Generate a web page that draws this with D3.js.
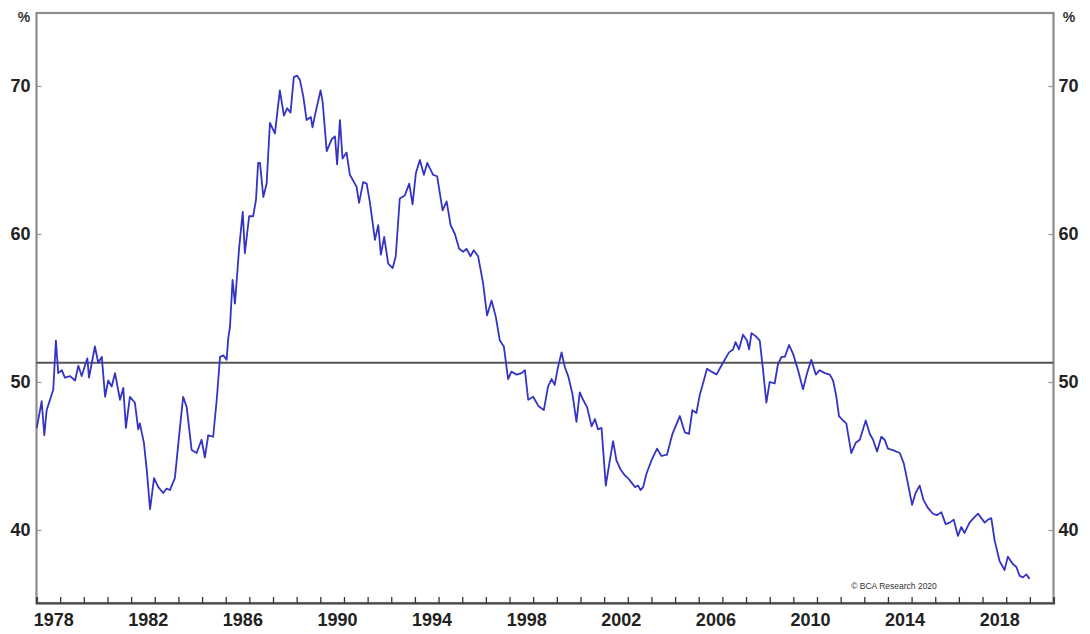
<!DOCTYPE html>
<html>
<head>
<meta charset="utf-8">
<script src="https://cdn.jsdelivr.net/npm/d3@7"></script>
<style>
  html, body { margin: 0; padding: 0; background: #fff; }
  svg { display: block; font-family: "Liberation Sans", Arial, sans-serif; }
</style>
</head>
<body>
<svg id="chart" width="1090" height="634"></svg>
<script>
// ---- data (decimal year, %) ----
const dates = [
1977.01,1977.22,1977.33,1977.43,1977.57,1977.71,1977.82,1977.92,1978.07,1978.20,1978.42,1978.63,1978.77,1978.91,
1979.15,1979.22,1979.47,1979.61,1979.76,1979.90,1980.03,1980.18,1980.32,1980.53,1980.67,1980.78,1980.95,
1981.16,1981.30,1981.37,1981.54,1981.66,1981.80,1981.97,1982.15,1982.36,1982.50,1982.64,1982.85,
1983.07,1983.20,1983.35,1983.56,1983.77,1983.98,1984.12,1984.26,1984.47,1984.62,1984.76,1984.90,
1985.04,1985.11,1985.18,1985.29,1985.39,1985.57,1985.72,1985.81,1985.99,1986.16,1986.28,1986.37,1986.45,
1986.59,1986.73,1986.87,1987.08,1987.29,1987.46,1987.60,1987.74,1987.88,1988.02,1988.14,1988.28,1988.42,
1988.60,1988.67,1988.77,1989.01,1989.10,1989.27,1989.48,1989.62,1989.71,1989.83,1989.94,1990.11,1990.25,
1990.53,1990.64,1990.81,1990.96,1991.10,1991.31,1991.45,1991.56,1991.70,1991.87,1992.06,1992.19,1992.36,
1992.57,1992.76,1992.90,1993.04,1993.21,1993.38,1993.52,1993.77,1993.94,1994.17,1994.34,1994.51,1994.69,
1994.87,1995.04,1995.18,1995.35,1995.49,1995.67,1995.88,1996.05,1996.24,1996.42,1996.59,1996.76,1996.94,
1997.08,1997.30,1997.51,1997.65,1997.79,1998.00,1998.21,1998.45,1998.63,1998.78,1998.91,1999.05,1999.20,
1999.34,1999.48,1999.66,1999.83,1999.97,2000.11,2000.28,2000.47,2000.61,2000.74,2000.89,2001.07,2001.21,
2001.38,2001.52,2001.69,2001.87,2002.01,2002.16,2002.30,2002.44,2002.54,2002.65,2002.79,2003.00,2003.24,
2003.42,2003.66,2003.89,2004.20,2004.41,2004.59,2004.73,2004.90,2005.04,2005.18,2005.35,2005.54,2005.75,
2005.92,2006.10,2006.28,2006.45,2006.56,2006.70,2006.87,2007.04,2007.13,2007.23,2007.41,2007.58,2007.72,
2007.86,2008.00,2008.21,2008.35,2008.50,2008.64,2008.82,2008.99,2009.20,2009.41,2009.58,2009.76,2009.95,
2010.11,2010.33,2010.54,2010.68,2010.82,2010.93,2011.10,2011.24,2011.45,2011.64,2011.81,2012.06,2012.23,
2012.37,2012.54,2012.72,2012.86,2013.00,2013.21,2013.50,2013.67,2013.85,2014.02,2014.17,2014.34,2014.51,
2014.69,2014.90,2015.07,2015.26,2015.44,2015.61,2015.78,2015.96,2016.10,2016.24,2016.45,2016.62,2016.81,
2016.95,2017.09,2017.23,2017.37,2017.51,2017.72,2017.93,2018.07,2018.28,2018.43,2018.57,2018.71,2018.85,2018.99
];
const values = [
46.9,48.7,46.4,48.1,48.8,49.5,52.8,50.6,50.8,50.3,50.4,50.1,51.1,50.4,
51.6,50.3,52.4,51.3,51.7,49.0,50.1,49.7,50.6,48.8,49.6,46.9,49.0,
48.6,46.8,47.2,45.9,44.1,41.4,43.5,42.9,42.5,42.8,42.7,43.5,
47.0,49.0,48.3,45.4,45.2,46.1,44.9,46.4,46.3,48.8,51.7,51.8,
51.5,53.0,53.7,56.9,55.3,59.1,61.5,58.7,61.2,61.2,62.3,64.8,64.8,
62.5,63.4,67.5,66.8,69.7,68.0,68.5,68.2,70.6,70.7,70.4,69.3,67.7,
67.9,67.2,68.0,69.7,68.9,65.6,66.4,66.6,64.7,67.7,65.1,65.5,64.0,
63.2,62.1,63.5,63.4,62.1,59.6,60.6,58.6,59.8,58.0,57.7,58.5,62.4,
62.6,63.4,62.0,64.1,65.0,64.0,64.8,64.0,63.9,61.6,62.2,60.6,60.0,
59.0,58.8,59.0,58.5,58.9,58.5,56.7,54.5,55.5,54.4,52.8,52.4,50.2,
50.7,50.5,50.6,50.8,48.8,49.0,48.4,48.1,49.7,50.2,49.8,51.0,52.0,
51.0,50.4,49.2,47.3,49.3,48.8,48.3,47.0,47.5,46.8,46.9,43.0,44.4,
46.0,44.7,44.1,43.7,43.5,43.2,42.9,43.0,42.7,42.9,43.8,44.7,45.5,
45.0,45.1,46.5,47.7,46.6,46.5,48.1,47.9,49.1,49.9,50.9,50.7,50.5,
51.0,51.5,52.0,52.2,52.7,52.2,53.2,52.8,52.2,53.3,53.1,52.8,50.8,
48.6,50.0,49.9,51.2,51.7,51.7,52.5,51.9,50.8,49.5,50.6,51.5,50.5,
50.8,50.6,50.5,50.1,49.0,47.7,47.4,47.2,45.2,45.9,46.1,47.4,46.5,
46.1,45.3,46.3,46.1,45.5,45.4,45.2,44.5,43.1,41.7,42.5,43.0,42.0,
41.5,41.1,41.0,41.2,40.4,40.5,40.7,39.6,40.2,39.8,40.5,40.8,41.1,
40.8,40.5,40.7,40.8,39.3,37.9,37.3,38.2,37.7,37.5,36.9,36.8,37.0,36.7
];
const referenceLevel = [51.3];
const yTickValues = [40, 50, 60, 70];
const xTickYears = d3.range(1978, 2020);
const xLabelYears = [1978, 1982, 1986, 1990, 1994, 1998, 2002, 2006, 2010, 2014, 2018];
const unitLabel = "%";
const sourceText = "© BCA Research 2020";

// ---- layout ----
const svg = d3.select("#chart");
const L = 36.5, R = 1053.5, T = 13, B = 603;
const x = d3.scaleLinear().domain([1977, 2020]).range([L, R]);
const y = d3.scaleLinear().domain([35, 75]).range([604, 12]);

const series = dates.map((d, i) => ({ t: d, v: values[i] }));

// frame
svg.append("rect")
  .attr("x", L).attr("y", T).attr("width", R - L).attr("height", B - T)
  .attr("fill", "none").attr("stroke", "#8c8c8c").attr("stroke-width", 2.2);

// reference line
svg.selectAll("line.ref").data(referenceLevel).enter().append("line")
  .attr("class", "ref")
  .attr("x1", L).attr("x2", R)
  .attr("y1", d => y(d)).attr("y2", d => y(d))
  .attr("stroke", "#555").attr("stroke-width", 2);

// data line
svg.append("path")
  .datum(series)
  .attr("fill", "none")
  .attr("stroke", "#3434c4")
  .attr("stroke-width", 1.8)
  .attr("stroke-linejoin", "round")
  .attr("d", d3.line().x(d => x(d.t)).y(d => y(d.v)));

// left axis
const gl = svg.append("g").attr("transform", `translate(${L},0)`)
  .call(d3.axisLeft(y).tickValues(yTickValues).tickSize(-5).tickPadding(6).tickFormat(d3.format("d")));
gl.select(".domain").remove();
gl.selectAll(".tick line").attr("stroke", "#999").attr("stroke-width", 1.2);
gl.selectAll(".tick text").attr("font-size", 18).attr("font-weight", "bold").attr("fill", "#222");

// right axis
const gr = svg.append("g").attr("transform", `translate(${R},0)`)
  .call(d3.axisRight(y).tickValues(yTickValues).tickSize(-5).tickPadding(5).tickFormat(d3.format("d")));
gr.select(".domain").remove();
gr.selectAll(".tick line").attr("stroke", "#999").attr("stroke-width", 1.2);
gr.selectAll(".tick text").attr("font-size", 18).attr("font-weight", "bold").attr("fill", "#222");

// bottom axis
const gb = svg.append("g").attr("transform", `translate(0,${B})`)
  .call(d3.axisBottom(x).tickValues(xTickYears).tickSize(-6).tickPadding(10)
    .tickFormat(d => xLabelYears.includes(d) ? String(d) : ""));
gb.select(".domain").attr("stroke", "#444").attr("stroke-width", 2.2);
gb.selectAll(".tick line").attr("stroke", "#333").attr("stroke-width", 1.3);
gb.selectAll(".tick text").attr("font-size", 18).attr("font-weight", "bold").attr("fill", "#222")
  .attr("dx", -7);

// unit labels
svg.append("text").attr("x", 24).attr("y", 22).attr("text-anchor", "middle")
  .attr("font-size", 14).attr("font-weight", "bold").attr("fill", "#333").text(unitLabel);
svg.append("text").attr("x", 1069).attr("y", 22).attr("text-anchor", "middle")
  .attr("font-size", 14).attr("font-weight", "bold").attr("fill", "#333").text(unitLabel);

// source text
svg.append("text").attr("x", 894).attr("y", 589).attr("text-anchor", "middle")
  .attr("font-size", 8.5).attr("fill", "#333").text(sourceText);
</script>
</body>
</html>
